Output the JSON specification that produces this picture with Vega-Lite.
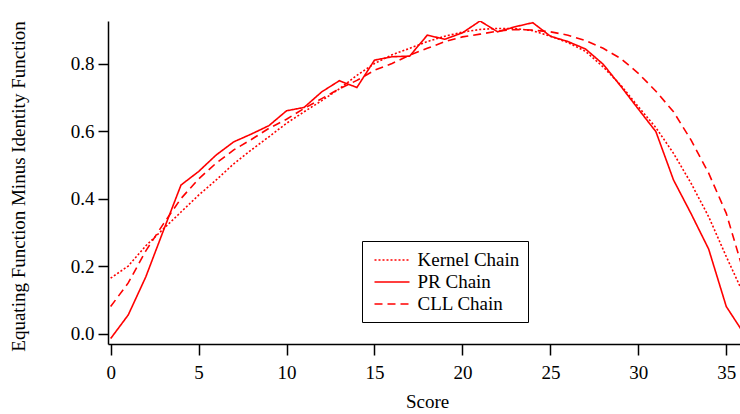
{
  "$schema": "https://vega.github.io/schema/vega-lite/v6.json",
  "width": 632,
  "height": 323,
  "autosize": {"type": "none"},
  "padding": {"left": 108, "top": 21, "right": 0, "bottom": 70},
  "background": "white",
  "config": {"view": {"stroke": null}, "font": "Liberation Serif"},
  "data": {"values": [
    {"score":0,"series":"Kernel Chain","value":0.164},{"score":1,"series":"Kernel Chain","value":0.2},{"score":2,"series":"Kernel Chain","value":0.26},{"score":3,"series":"Kernel Chain","value":0.31},{"score":4,"series":"Kernel Chain","value":0.36},{"score":5,"series":"Kernel Chain","value":0.41},{"score":6,"series":"Kernel Chain","value":0.455},{"score":7,"series":"Kernel Chain","value":0.503},{"score":8,"series":"Kernel Chain","value":0.544},{"score":9,"series":"Kernel Chain","value":0.583},{"score":10,"series":"Kernel Chain","value":0.623},{"score":11,"series":"Kernel Chain","value":0.657},{"score":12,"series":"Kernel Chain","value":0.69},{"score":13,"series":"Kernel Chain","value":0.725},{"score":14,"series":"Kernel Chain","value":0.765},{"score":15,"series":"Kernel Chain","value":0.8},{"score":16,"series":"Kernel Chain","value":0.826},{"score":17,"series":"Kernel Chain","value":0.845},{"score":18,"series":"Kernel Chain","value":0.865},{"score":19,"series":"Kernel Chain","value":0.881},{"score":20,"series":"Kernel Chain","value":0.893},{"score":21,"series":"Kernel Chain","value":0.901},{"score":22,"series":"Kernel Chain","value":0.904},{"score":23,"series":"Kernel Chain","value":0.904},{"score":24,"series":"Kernel Chain","value":0.897},{"score":25,"series":"Kernel Chain","value":0.881},{"score":26,"series":"Kernel Chain","value":0.862},{"score":27,"series":"Kernel Chain","value":0.836},{"score":28,"series":"Kernel Chain","value":0.79},{"score":29,"series":"Kernel Chain","value":0.736},{"score":30,"series":"Kernel Chain","value":0.672},{"score":31,"series":"Kernel Chain","value":0.61},{"score":32,"series":"Kernel Chain","value":0.534},{"score":33,"series":"Kernel Chain","value":0.445},{"score":34,"series":"Kernel Chain","value":0.346},{"score":35,"series":"Kernel Chain","value":0.228},{"score":36,"series":"Kernel Chain","value":0.115},
    {"score":0,"series":"PR Chain","value":-0.015},{"score":1,"series":"PR Chain","value":0.055},{"score":2,"series":"PR Chain","value":0.168},{"score":3,"series":"PR Chain","value":0.305},{"score":4,"series":"PR Chain","value":0.44},{"score":5,"series":"PR Chain","value":0.48},{"score":6,"series":"PR Chain","value":0.529},{"score":7,"series":"PR Chain","value":0.568},{"score":8,"series":"PR Chain","value":0.591},{"score":9,"series":"PR Chain","value":0.616},{"score":10,"series":"PR Chain","value":0.66},{"score":11,"series":"PR Chain","value":0.67},{"score":12,"series":"PR Chain","value":0.716},{"score":13,"series":"PR Chain","value":0.749},{"score":14,"series":"PR Chain","value":0.729},{"score":15,"series":"PR Chain","value":0.81},{"score":16,"series":"PR Chain","value":0.82},{"score":17,"series":"PR Chain","value":0.822},{"score":18,"series":"PR Chain","value":0.884},{"score":19,"series":"PR Chain","value":0.872},{"score":20,"series":"PR Chain","value":0.891},{"score":21,"series":"PR Chain","value":0.926},{"score":22,"series":"PR Chain","value":0.894},{"score":23,"series":"PR Chain","value":0.909},{"score":24,"series":"PR Chain","value":0.921},{"score":25,"series":"PR Chain","value":0.881},{"score":26,"series":"PR Chain","value":0.865},{"score":27,"series":"PR Chain","value":0.843},{"score":28,"series":"PR Chain","value":0.798},{"score":29,"series":"PR Chain","value":0.733},{"score":30,"series":"PR Chain","value":0.665},{"score":31,"series":"PR Chain","value":0.598},{"score":32,"series":"PR Chain","value":0.455},{"score":33,"series":"PR Chain","value":0.355},{"score":34,"series":"PR Chain","value":0.25},{"score":35,"series":"PR Chain","value":0.08},{"score":36,"series":"PR Chain","value":0.0},
    {"score":0,"series":"CLL Chain","value":0.08},{"score":1,"series":"CLL Chain","value":0.15},{"score":2,"series":"CLL Chain","value":0.245},{"score":3,"series":"CLL Chain","value":0.325},{"score":4,"series":"CLL Chain","value":0.4},{"score":5,"series":"CLL Chain","value":0.458},{"score":6,"series":"CLL Chain","value":0.505},{"score":7,"series":"CLL Chain","value":0.544},{"score":8,"series":"CLL Chain","value":0.575},{"score":9,"series":"CLL Chain","value":0.608},{"score":10,"series":"CLL Chain","value":0.635},{"score":11,"series":"CLL Chain","value":0.667},{"score":12,"series":"CLL Chain","value":0.696},{"score":13,"series":"CLL Chain","value":0.725},{"score":14,"series":"CLL Chain","value":0.75},{"score":15,"series":"CLL Chain","value":0.78},{"score":16,"series":"CLL Chain","value":0.8},{"score":17,"series":"CLL Chain","value":0.825},{"score":18,"series":"CLL Chain","value":0.845},{"score":19,"series":"CLL Chain","value":0.865},{"score":20,"series":"CLL Chain","value":0.879},{"score":21,"series":"CLL Chain","value":0.887},{"score":22,"series":"CLL Chain","value":0.896},{"score":23,"series":"CLL Chain","value":0.901},{"score":24,"series":"CLL Chain","value":0.899},{"score":25,"series":"CLL Chain","value":0.894},{"score":26,"series":"CLL Chain","value":0.884},{"score":27,"series":"CLL Chain","value":0.868},{"score":28,"series":"CLL Chain","value":0.845},{"score":29,"series":"CLL Chain","value":0.815},{"score":30,"series":"CLL Chain","value":0.771},{"score":31,"series":"CLL Chain","value":0.718},{"score":32,"series":"CLL Chain","value":0.657},{"score":33,"series":"CLL Chain","value":0.573},{"score":34,"series":"CLL Chain","value":0.475},{"score":35,"series":"CLL Chain","value":0.356},{"score":36,"series":"CLL Chain","value":0.18}
  ]},
  "mark": {"type": "line", "color": "#ff0000", "strokeWidth": 1.6, "clip": true},
  "encoding": {
    "x": {
      "field": "score", "type": "quantitative",
      "scale": {"domain": [-0.15, 35.78], "nice": false, "zero": false},
      "axis": {
        "title": "Score", "values": [0,5,10,15,20,25,30,35], "grid": false,
        "domainColor": "black", "domainWidth": 1.5, "tickColor": "black", "tickWidth": 1.5, "tickSize": 11,
        "labelFont": "Liberation Serif", "labelFontSize": 19, "labelColor": "black", "labelPadding": 8,
        "titleFont": "Liberation Serif", "titleFontSize": 19, "titleFontWeight": "normal", "titleColor": "black",
        "titleX": 319, "titleY": 57, "titleBaseline": "middle", "titleAlign": "center"
      }
    },
    "y": {
      "field": "value", "type": "quantitative",
      "scale": {"domain": [-0.031, 0.926], "nice": false, "zero": false},
      "axis": {
        "title": "Equating Function Minus Identity Function", "values": [0, 0.2, 0.4, 0.6, 0.8], "format": ".1f", "grid": false,
        "domainColor": "black", "domainWidth": 1.5, "tickColor": "black", "tickWidth": 1.5, "tickSize": 10,
        "labelFont": "Liberation Serif", "labelFontSize": 19, "labelColor": "black", "labelPadding": 4,
        "titleFont": "Liberation Serif", "titleFontSize": 19, "titleFontWeight": "normal", "titleColor": "black",
        "titleX": -90, "titleY": 165, "titleAngle": -90, "titleBaseline": "middle", "titleAlign": "center"
      }
    },
    "strokeDash": {
      "field": "series", "type": "nominal",
      "scale": {"domain": ["Kernel Chain", "PR Chain", "CLL Chain"], "range": [[2, 2], [1, 0], [8, 5]]},
      "legend": {
        "title": null, "orient": "none", "legendX": 254, "legendY": 220,
        "strokeColor": "black", "fillColor": "white", "padding": 8, "rowPadding": 1,
        "symbolType": "M-1.75,0H1.75", "symbolSize": 400, "symbolOffset": 11, "symbolStrokeColor": "#ff0000", "symbolStrokeWidth": 1.6, "symbolFillColor": "transparent",
        "labelFont": "Liberation Serif", "labelFontSize": 19, "labelColor": "black", "labelOffset": 14.5
      }
    }
  }
}
